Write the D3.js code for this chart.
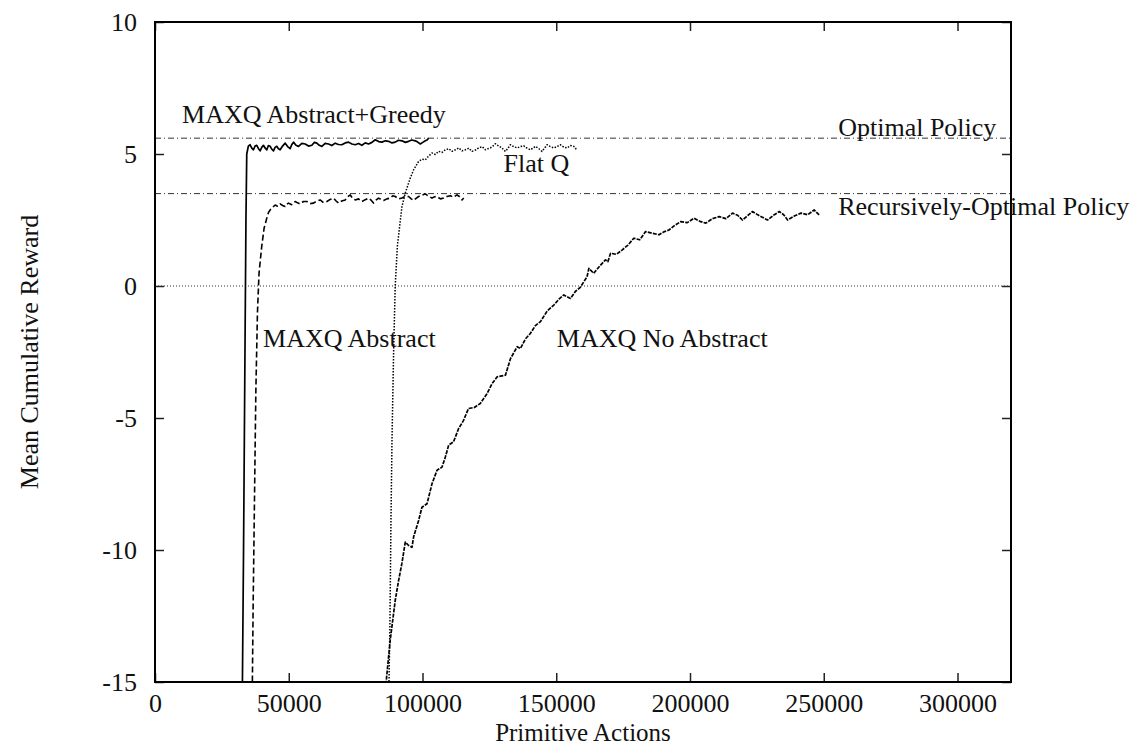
<!DOCTYPE html>
<html>
<head>
<meta charset="utf-8">
<script src="https://cdn.jsdelivr.net/npm/d3@7/dist/d3.min.js"></script>
<style>
body{margin:0;background:#fff}
svg{font-family:"Liberation Serif","Times New Roman",serif}
</style>
</head>
<body>
<svg></svg>
<script>
let xTicks = [0,50000,100000,150000,200000,250000,300000]
let yTicks = [-15,-10,-5,0,5,10]

let optimalValue = 5.6
let recursiveValue = 3.5

// [primitive actions, mean cumulative reward]
let greedyData = [
    [32600,-16],[33100,-10],[33600,-3],[34000,2.5],[34300,5.0],[34900,5.3],[35550,5.35],[36200,5.22],[36800,5.16],
    [37400,5.3],[38050,5.33],[38700,5.2],[39300,5.12],[39900,5.25],[40540,5.33],[41200,5.22],[41790,5.16],
    [42400,5.32],[43040,5.29],[43700,5.18],[44290,5.12],[44900,5.25],[45530,5.29],[46150,5.2],[46780,5.16],
    [47700,5.3],[48650,5.41],[49600,5.28],[50520,5.2],[51100,5.35],[51770,5.45],[52700,5.33],[53640,5.29],
    [54900,5.4],[56140,5.38],[57400,5.3],[58630,5.33],[59600,5.44],[60500,5.41],[61400,5.33],[62380,5.29],
    [63600,5.4],[64870,5.38],[66100,5.32],[67360,5.41],[68600,5.36],[69860,5.35],[71100,5.42],[72350,5.45],
    [73600,5.38],[74850,5.35],[76100,5.4],[77340,5.33],[78600,5.42],[79840,5.38],[81100,5.44],[82330,5.54],
    [83600,5.47],[84830,5.45],[86100,5.5],[87320,5.48],[88600,5.42],[89820,5.45],[91000,5.52],[92310,5.50],
    [93600,5.44],[94810,5.48],[96000,5.53],[97300,5.50],[98200,5.45],[99180,5.38],[100100,5.44],[101050,5.50],
    [101700,5.53],[102300,5.6]
]

let abstractData = [
    [36300,-16],[36700,-12],[37200,-8],[37700,-4],[38300,-1],[38900,0.5],[39900,1.5],[40800,2.2],[41800,2.57],
    [42400,2.78],[43040,2.88],[44000,2.98],[44900,3.07],[45800,3.02],[46780,3.11],[47700,3.05],[48650,3.01],
    [49300,3.1],[49900,3.14],[51100,3.08],[52400,3.2],[53300,3.15],[54270,3.11],[55500,3.2],[56770,3.2],
    [58000,3.12],[59260,3.14],[60500,3.22],[61750,3.26],[63000,3.16],[64250,3.2],[65500,3.28],[66740,3.33],
    [67700,3.22],[68610,3.14],[69800,3.22],[71100,3.26],[72000,3.38],[72980,3.45],[73900,3.32],[74850,3.26],
    [76100,3.3],[77340,3.2],[78600,3.27],[79840,3.33],[80800,3.25],[81700,3.14],[82600,3.25],[83570,3.33],
    [84500,3.28],[85450,3.24],[86700,3.3],[87950,3.33],[88900,3.42],[89820,3.39],[91000,3.3],[92310,3.33],
    [93500,3.4],[94810,3.39],[95800,3.3],[96680,3.24],[97600,3.32],[98550,3.39],[99800,3.44],[101050,3.49],
    [102300,3.4],[103550,3.33],[104500,3.38],[105420,3.39],[106700,3.3],[107910,3.33],[109100,3.39],
    [110400,3.42],[111600,3.36],[112900,3.45],[113900,3.38],[114780,3.26],[115400,3.33]
]

let flatQData = [
    [87300,-16],[87800,-13],[88200,-9],[88600,-5.8],[89200,-2.5],[89800,0],[90600,1.5],[91500,2.3],
    [92310,3.0],[93560,3.52],[95430,4.09],[96680,4.4],[98550,4.72],[99800,4.8],[101050,4.78],[102300,4.92],
    [103550,5.04],[104800,4.98],[106040,5.1],[107300,5.06],[108540,5.16],[109800,5.2],[111030,5.1],[112300,5.16],
    [113520,5.23],[114800,5.12],[116020,5.16],[117300,5.22],[118510,5.1],[119800,5.15],[121000,5.23],
    [122300,5.28],[123500,5.16],[124400,5.2],[125370,5.23],[126300,5.3],[127240,5.39],[128500,5.3],
    [129740,5.23],[130400,5.15],[131000,5.1],[132000,5.22],[132860,5.35],[134100,5.28],[135360,5.23],
    [136600,5.28],[137850,5.31],[139100,5.22],[140340,5.16],[141300,5.22],[142210,5.29],[143500,5.2],
    [144710,5.1],[145600,5.22],[146580,5.35],[147800,5.28],[149070,5.23],[150300,5.28],[151570,5.35],
    [152800,5.26],[154060,5.23],[155300,5.32],[156550,5.29],[157200,5.2],[157800,5.23]
]

let noAbstractData = [
    [86200,-15.5],[86450,-14.95],[87950,-13.4],[89820,-11.9],[91060,-11.16],[92310,-10.5],[93560,-9.7],
    [94810,-9.83],[96060,-9.9],[96680,-9.5],[98550,-8.88],[99800,-8.38],[101680,-8.25],[103550,-7.49],
    [105420,-6.98],[107290,-6.86],[108540,-6.48],[109780,-6.03],[111600,-5.9],[113500,-5.4],[115300,-5.1],
    [117200,-4.64],[119400,-4.6],[121600,-4.45],[124100,-4.08],[126000,-3.7],[127900,-3.44],[131000,-3.38],
    [132900,-2.75],[135400,-2.3],[136600,-2.37],[138500,-2.0],[140300,-1.8],[142200,-1.5],[144100,-1.35],
    [146600,-0.95],[149100,-0.72],[151000,-0.5],[152800,-0.34],[155300,-0.47],[157200,-0.2],[159000,-0.05],
    [161500,0.35],[162200,0.67],[164000,0.48],[166200,0.75],[168400,0.99],[169300,0.92],[170300,1.24],
    [172500,1.2],[174700,1.37],[176800,1.55],[179000,1.81],[181200,1.75],[183400,2.06],[185900,2.0],
    [188400,1.94],[190200,2.05],[192100,2.12],[194300,2.3],[196600,2.44],[199000,2.4],[201500,2.57],
    [203700,2.45],[205900,2.38],[208400,2.55],[210900,2.63],[213400,2.55],[215900,2.76],[217800,2.68],
    [219600,2.5],[221400,2.65],[223300,2.82],[226000,2.66],[229000,2.5],[231200,2.68],[233400,2.82],
    [235000,2.7],[236500,2.5],[239000,2.65],[241500,2.76],[244000,2.7],[246400,2.88],[248300,2.69]
]

let labelTexts = ["MAXQ Abstract+Greedy","Flat Q","Optimal Policy","Recursively-Optimal Policy","MAXQ Abstract","MAXQ No Abstract"]
let labelX = [10100,130300,255400,255400,40400,150200]
let labelY = [6.17,4.3,5.67,2.7,-2.3,-2.3]

let width = 1135
let height = 746
let plotLeft = 155, plotRight = 1011, plotTop = 22, plotBottom = 682
let fontSize = 26

let svg = d3.select('svg').attr('width',width).attr('height',height)

let xScale = d3.scaleLinear().domain([0,320000]).range([plotLeft,plotRight])
let yScale = d3.scaleLinear().domain([-15,10]).range([plotBottom,plotTop])

svg.append('clipPath').attr('id','plot').append('rect')
    .attr('x',plotLeft).attr('y',plotTop).attr('width',plotRight-plotLeft).attr('height',plotBottom-plotTop)

// axes, ticks pointing inward, mirrored on top and right
let xAxis = d3.axisBottom(xScale).tickValues(xTicks).tickSize(-9).tickPadding(12).tickFormat(d => String(d))
let yAxis = d3.axisLeft(yScale).tickValues(yTicks).tickSize(-9).tickPadding(18).tickFormat(d => String(d))
let gx = svg.append('g').attr('transform','translate(0,'+plotBottom+')').call(xAxis)
let gy = svg.append('g').attr('transform','translate('+plotLeft+',0)').call(yAxis)
let gxt = svg.append('g').attr('transform','translate(0,'+plotTop+')').call(d3.axisTop(xScale).tickValues(xTicks).tickSize(-9).tickFormat(''))
let gyr = svg.append('g').attr('transform','translate('+plotRight+',0)').call(d3.axisRight(yScale).tickValues(yTicks).tickSize(-9).tickFormat(''))
;[gx,gy,gxt,gyr].forEach(g =>{
    g.select('.domain').remove()
    g.selectAll('line').attr('stroke','#222').attr('stroke-width',1.5)
    g.selectAll('text').attr('font-size',fontSize).attr('font-family','"Liberation Serif","Times New Roman",serif').attr('fill','#111')
})

// reference lines
let plotArea = svg.append('g').attr('clip-path','url(#plot)')
plotArea.append('line')
    .attr('x1',plotLeft).attr('x2',plotRight).attr('y1',yScale(0)).attr('y2',yScale(0))
    .attr('stroke','#333').attr('stroke-width',1).attr('stroke-dasharray','1,2')
;[optimalValue,recursiveValue].forEach(v =>{
    plotArea.append('line')
        .attr('x1',plotLeft).attr('x2',plotRight).attr('y1',yScale(v)).attr('y2',yScale(v))
        .attr('stroke','#333').attr('stroke-width',1).attr('stroke-dasharray','6,3,1,3')
})

let line = d3.line().x(d => xScale(d[0])).y(d => yScale(d[1]))

let series = [
    {data: greedyData, dash: null, w: 1.7},
    {data: abstractData, dash: '6,3', w: 1.6},
    {data: flatQData, dash: '1.5,1.5', w: 1.5},
    {data: noAbstractData, dash: '4,1.2', w: 1.7}
]
series.forEach(s =>{
    plotArea.append('path')
        .attr('d',line(s.data))
        .attr('fill','none')
        .attr('stroke','#000')
        .attr('stroke-width',s.w)
        .attr('stroke-dasharray',s.dash)
        .attr('stroke-linejoin','round')
})

// frame
svg.append('rect')
    .attr('x',plotLeft).attr('y',plotTop).attr('width',plotRight-plotLeft).attr('height',plotBottom-plotTop)
    .attr('fill','none').attr('stroke','#000').attr('stroke-width',2)

// curve labels
labelTexts.forEach((t,i) =>{
    svg.append('text')
        .attr('x',xScale(labelX[i])).attr('y',yScale(labelY[i]))
        .attr('font-size',fontSize).attr('fill','#111')
        .text(t)
})

// axis titles
svg.append('text')
    .attr('x',(plotLeft+plotRight)/2).attr('y',740.5)
    .attr('text-anchor','middle').attr('font-size',25).attr('fill','#111')
    .text('Primitive Actions')
svg.append('text')
    .attr('transform','translate(38,'+((plotTop+plotBottom)/2)+') rotate(-90)')
    .attr('text-anchor','middle').attr('font-size',fontSize).attr('fill','#111')
    .text('Mean Cumulative Reward')
</script>
</body>
</html>
